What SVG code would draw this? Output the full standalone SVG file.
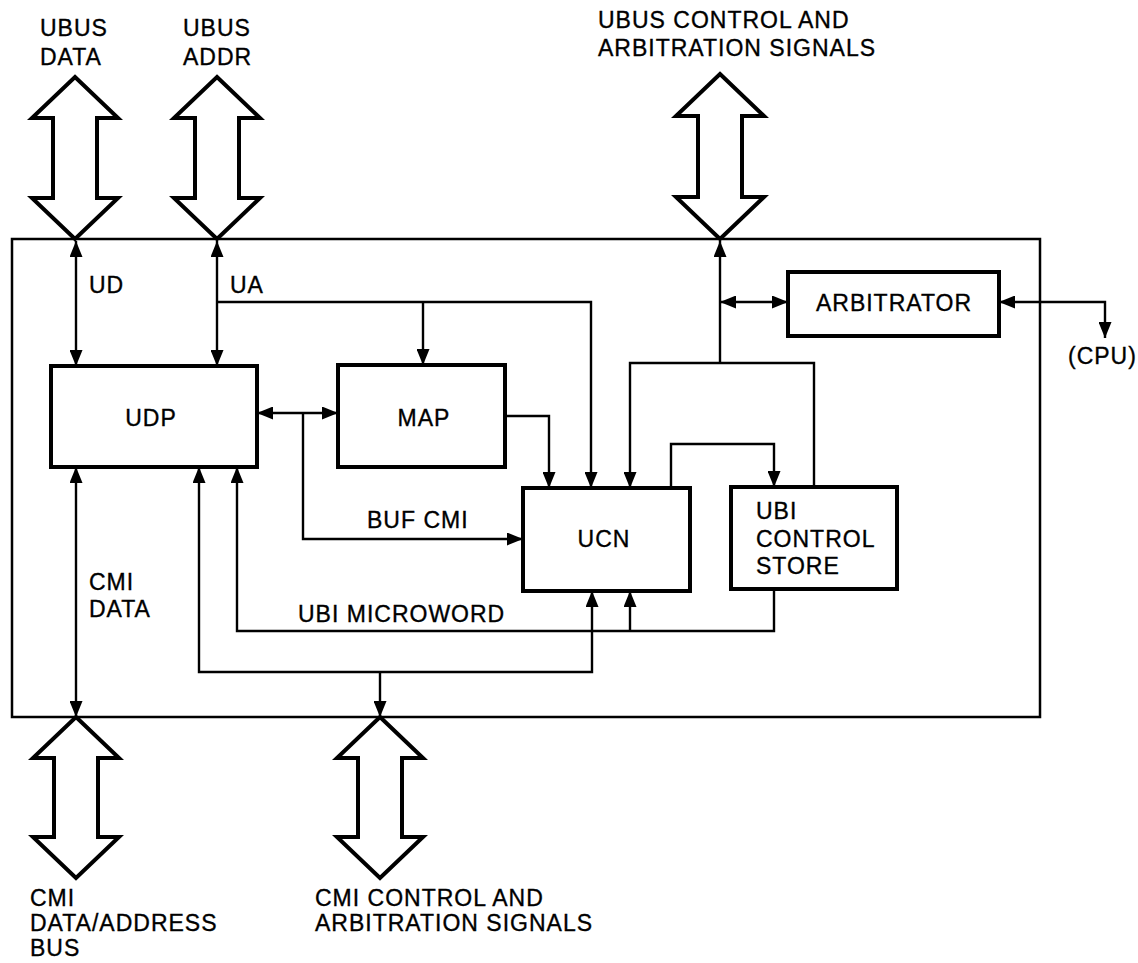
<svg xmlns="http://www.w3.org/2000/svg" width="1138" height="963" viewBox="0 0 1138 963">
<style>
.box{fill:#fff;stroke:#000;stroke-width:4}
.frame{fill:none;stroke:#000;stroke-width:2.5}
.bus{fill:#fff;stroke:#000;stroke-width:4;stroke-linejoin:miter}
.c{fill:none;stroke:#000;stroke-width:2.4}
.e{marker-end:url(#ah)}
.b{marker-start:url(#ah);marker-end:url(#ah)}
text{font-family:"Liberation Sans",Arial,Helvetica,sans-serif;font-size:23px;letter-spacing:1px;fill:#000;stroke:#000;stroke-width:0.35}
.m{text-anchor:middle}
</style>
<defs>
<marker id="ah" viewBox="0 0 16 13" refX="16" refY="6.5" markerWidth="16" markerHeight="13" markerUnits="userSpaceOnUse" orient="auto-start-reverse">
<path d="M0,0 L16,6.5 L0,13 z" fill="#000"/>
</marker>
</defs>
<rect width="1138" height="963" fill="#fff"/>

<g id="bus-ubus-data">
<polygon class="bus" points="75,77 118,118 97,118 97,198 118,198 75,239 32,198 53,198 53,118 32,118"/>
<text x="40" y="36">UBUS</text><text x="40" y="65">DATA</text>
</g>
<g id="bus-ubus-addr">
<polygon class="bus" points="217,77 260,118 239,118 239,198 260,198 217,239 174,198 195,198 195,118 174,118"/>
<text x="183" y="36">UBUS</text><text x="183" y="65">ADDR</text>
</g>
<g id="bus-ubus-control">
<polygon class="bus" points="720,74 764,116 742,116 742,197 764,197 720,239 676,197 698,197 698,116 676,116"/>
<text x="598" y="28">UBUS CONTROL AND</text><text x="598" y="56">ARBITRATION SIGNALS</text>
</g>
<g id="bus-cmi-data">
<polygon class="bus" points="76,717 119,758 98,758 98,837 119,837 76,878 33,837 54,837 54,758 33,758"/>
<text x="30" y="906">CMI</text><text x="30" y="931">DATA/ADDRESS</text><text x="30" y="956">BUS</text>
</g>
<g id="bus-cmi-control">
<polygon class="bus" points="380,717 423,758 402,758 402,837 423,837 380,878 337,837 358,837 358,758 337,758"/>
<text x="315" y="906">CMI CONTROL AND</text><text x="315" y="931">ARBITRATION SIGNALS</text>
</g>

<g id="frame">
<rect class="frame" x="12" y="239" width="1028" height="478"/>
</g>

<g id="connectors">
<path class="c b" d="M76,366 V241"/>
<path class="c b" d="M217,366 V241"/>
<path class="c e" d="M217,302 H591 V488"/>
<path class="c e" d="M423,302 V365"/>
<path class="c b" d="M257,413 H338"/>
<path class="c e" d="M303,413 V539 H523"/>
<path class="c e" d="M505,416 H549 V488"/>
<path class="c e" d="M671,488 V444 H774 V487"/>
<path class="c e" d="M814,487 V363 H630 V488"/>
<path class="c e" d="M720,363 V241"/>
<path class="c b" d="M720,302 H788"/>
<path class="c b" d="M1105,338 V302 H999"/>
<path class="c e" d="M774,589 V631 H237 V467"/>
<path class="c e" d="M630,631 V591"/>
<path class="c b" d="M592,591 V672 H199 V467"/>
<path class="c e" d="M380,672 V717"/>
<path class="c b" d="M76,467 V717"/>
<text x="89" y="293">UD</text>
<text x="230" y="293">UA</text>
<text x="367" y="528">BUF CMI</text>
<text x="298" y="622">UBI MICROWORD</text>
<text x="89" y="590">CMI</text><text x="89" y="617">DATA</text>
<text x="1068" y="364">(CPU)</text>
</g>

<g id="udp">
<rect class="box" x="51" y="366" width="206" height="101"/>
<text class="m" x="151" y="426">UDP</text>
</g>
<g id="map">
<rect class="box" x="338" y="365" width="167" height="102"/>
<text class="m" x="424" y="426">MAP</text>
</g>
<g id="ucn">
<rect class="box" x="523" y="488" width="167" height="103"/>
<text class="m" x="604" y="547">UCN</text>
</g>
<g id="ubi-control-store">
<rect class="box" x="731" y="487" width="166" height="102"/>
<text x="756" y="519">UBI</text><text x="756" y="547">CONTROL</text><text x="756" y="574">STORE</text>
</g>
<g id="arbitrator">
<rect class="box" x="788" y="272" width="211" height="64"/>
<text class="m" x="894" y="311">ARBITRATOR</text>
</g>
</svg>
